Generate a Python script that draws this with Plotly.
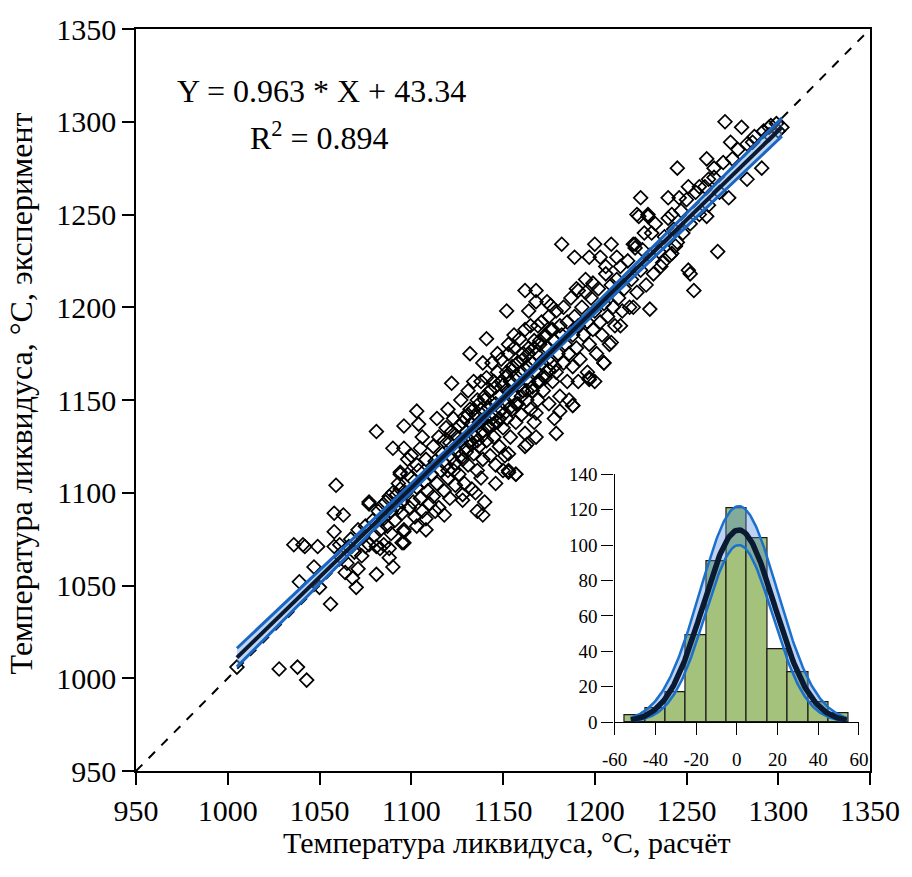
import plotly.graph_objects as go
import math

# ---------------- main scatter data (calc, exp) ----------------
calc = [1005,1028,1038,1043,
        1036,1041,1042,1049,1058,1061,1066,1075,1081,1083,1085,1088,1095,
        1059,1077,1058,1063,1058,1089,1088,1090,1081,1071,1064,1068,1070,1047,1039,1050,1056,1094,1092,1088,1095,1096,1096,
        1081,1090,1096,1096,1103,1104,1106,1098,1103,1094,1093,1077,1084,1096,1122,1132,1141,1156,1153,1147,1139,1157,1153,1153,1140,1136,1139,1128,1108,1113,
        1182,1189,1197,1203,1200,1209,1212,1222,1224,1229,1231,1162,1168,1168,1174,1176,1152,1164,1191,1195,1206,1199,1230,1221,1214,1209,1205,1197,1191,1188,1181,
        1271,1280,1274,1286,1295,1302,1291,1283,1273,1261,1267,1254,1251,1252,1245,1261,1265,1262,1251,1257,1246,1240,1225,1223,1229,1242,1221,1226,1244,1242,1237,
        1179,1168,1163,1188,1205,1197,1153,1157,
        1097,1099,1100,1101,1102,1103,1104,1105,1106,1107,1108,1109,1110,1100,1098,1105,1108,1103,
        1111,1112,1112,1113,1114,1115,1115,1116,1117,1118,1119,1119,1120,1121,1121,1122,1123,1123,1124,1124,1125,1118,1114,1120,
        1126,1126,1127,1127,1128,1129,1129,1130,1130,1131,1131,1132,1132,1133,1133,1134,1134,1135,1135,1136,1136,1137,1137,1138,1138,1139,1139,1140,1140,1128,1135,1138,
        1141,1141,1142,1142,1143,1143,1144,1144,1145,1145,1146,1146,1147,1147,1148,1148,1149,1149,1150,1150,1151,1151,1152,1152,1153,1153,1154,1154,1155,1155,1146,1150,
        1156,1156,1157,1157,1158,1158,1159,1159,1160,1160,1161,1161,1162,1162,1163,1163,1164,1164,1165,1165,1166,1166,1167,1167,1168,1168,1169,1169,1170,1170,1162,1168,
        1171,1171,1172,1173,1173,1174,1175,1175,1176,1177,1177,1178,1179,1179,1180,1181,1181,1182,1183,1183,1184,1185,1185,1186,1187,1188,1188,1189,1190,1178,1186,1190,
        1191,1192,1193,1194,1195,1196,1197,1198,1199,1200,1201,1202,1203,1204,1205,1206,1207,1208,1209,1210,1211,1212,1213,1214,1215,1200,1196,
        1216,1218,1219,1220,1222,1223,1225,1227,1228,1230,1232,1233,1235,1236,1238,1240,1241,1243,1245,1247,1248,1250,1252,1255,1257,1260,1262,1265,1268,1270,1275,1278,1283,1287,1292,1296,1299,1300,1295,
        1062,1065,1067,1069,1071,1073,1075,1077,1079,1080,1082,1083,1085,1086,1087,1089,1090,1091,1093,1094,1095,
        1118,1122,1125,1128,1131,1134,1137,1140,1143,1146,1149,1152,1155,1158,1161,1164,1167,1170,1173,1176,
        1120,1124,1127,1130,1133,1136,1139,1142,1145,1148,1151,1154,1157,1160,1163,1166,1169,1172,1175,1178]
exper = [1006,1005,1006,999,
         1072,1072,1071,1071,1071,1072,1071,1071,1071,1070,1072,1070,1073,
         1104,1094,1089,1088,1079,1078,1065,1060,1056,1059,1057,1054,1049,1060,1052,1049,1040,1110,1099,1098,1089,1079,1073,
         1133,1124,1124,1136,1144,1137,1130,1118,1115,1111,1105,1095,1093,1080,1159,1175,1183,1185,1180,1175,1170,1110,1112,1121,1095,1090,1088,1099,1086,1090,
         1234,1227,1227,1227,1234,1234,1227,1234,1249,1249,1240,1209,1209,1203,1203,1201,1198,1198,1209,1208,1218,1213,1199,1200,1190,1181,1170,1162,1160,1147,1144,
         1300,1297,1289,1289,1297,1297,1275,1269,1259,1249,1230,1209,1220,1218,1275,1280,1275,1269,1265,1265,1259,1259,1259,1250,1250,1250,1234,1231,1233,1229,1224,
         1132,1143,1126,1147,1170,1161,1111,1110,
         1100,1092,1108,1095,1087,1103,1112,1097,1090,1106,1118,1101,1094,1120,1110,1124,1080,1082,
         1110,1125,1098,1117,1105,1130,1092,1112,1121,1101,1135,1115,1108,1127,1097,1119,1140,1112,1104,1131,1122,1088,1140,1145,
         1136,1110,1128,1150,1118,1141,1105,1133,1124,1155,1115,1145,1128,1137,1102,1160,1121,1142,1130,1150,1112,1138,1125,1160,1145,1118,1133,1152,1140,1096,1100,1108,
         1128,1162,1146,1136,1120,1155,1170,1140,1130,1160,1148,1115,1138,1165,1152,1125,1145,1172,1158,1135,1148,1120,1165,1140,1155,1175,1130,1160,1145,1168,1105,1112,
         1178,1152,1138,1163,1170,1148,1183,1158,1142,1165,1175,1155,1188,1132,1168,1150,1178,1160,1145,1190,1170,1155,1182,1138,1165,1175,1150,1190,1160,1180,1125,1130,
         1170,1192,1155,1185,1162,1178,1195,1148,1170,1188,1160,1182,1198,1165,1175,1190,1152,1185,1200,1170,1180,1160,1192,1175,1205,1185,1168,1195,1178,1140,1150,1210,
         1190,1172,1200,1185,1215,1192,1180,1205,1188,1198,1175,1210,1192,1185,1202,1222,1195,1180,1212,1200,1190,1215,1205,1222,1198,1160,1165,
         1210,1225,1200,1215,1232,1208,1220,1240,1212,1228,1218,1245,1230,1222,1238,1248,1228,1242,1235,1252,1240,1258,1245,1262,1250,1265,1255,1270,1262,1278,1280,1285,1288,1292,1295,1298,1299,1295,1293,
         1065,1062,1075,1068,1080,1066,1082,1072,1085,1077,1090,1080,1086,1095,1082,1090,1100,1085,1092,1102,1095,
         1128,1133,1130,1138,1142,1145,1148,1150,1155,1157,1160,1163,1166,1170,1172,1175,1178,1182,1184,1188,
         1112,1116,1120,1122,1126,1128,1131,1135,1137,1140,1143,1146,1148,1152,1155,1157,1160,1163,1166,1168]

# regression  Y = 0.963 * X + 43.34  and its confidence band
slope, intercept = 0.963, 43.34
fit_x = [1005, 1050, 1100, 1150, 1200, 1250, 1302]
band_half = [5.0, 3.6, 2.3, 1.6, 2.3, 3.6, 5.0]

# ---------------- inset histogram of errors ----------------
bin_centers = [-50, -40, -30, -20, -10, 0, 10, 20, 30, 40, 50]
bin_counts = [4, 8, 17, 49, 91, 121, 104, 41, 28, 11, 5]
bin_width = 10
inset_ticks = [-60, -40, -20, 0, 20, 40, 60]
inset_ticktext = ["-60", "-40", "-20", "0", "20", "40", "60"]
upper_peak, upper_sd = 122, 19.0
lower_peak, lower_sd = 100, 16.5
curve_from, curve_to = -52, 54

SERIF = "Liberation Serif"

fig = go.Figure()

# 1:1 line
fig.add_trace(go.Scatter(x=[950, 1350], y=[950, 1350], mode="lines",
                         line=dict(color="black", width=2, dash="dash"),
                         hoverinfo="skip", showlegend=False))
# points
fig.add_trace(go.Scatter(x=calc, y=exper, mode="markers",
                         marker=dict(symbol="diamond-open", size=10.5,
                                     color="black", line=dict(width=1.7, color="black")),
                         showlegend=False))
# confidence band
fit_y = [slope * v + intercept for v in fit_x]
up = [a + b for a, b in zip(fit_y, band_half)]
lo = [a - b for a, b in zip(fit_y, band_half)]
fig.add_trace(go.Scatter(x=fit_x, y=lo, mode="lines", line=dict(color="#1a66c2", width=3),
                         showlegend=False, hoverinfo="skip"))
fig.add_trace(go.Scatter(x=fit_x, y=up, mode="lines", line=dict(color="#1a66c2", width=3),
                         fill="tonexty", fillcolor="rgba(110,165,230,0.45)",
                         showlegend=False, hoverinfo="skip"))
fig.add_trace(go.Scatter(x=fit_x, y=fit_y, mode="lines", line=dict(color="#0b1a30", width=4),
                         showlegend=False, hoverinfo="skip"))

# inset histogram
fig.add_trace(go.Bar(x=bin_centers, y=bin_counts, width=bin_width,
                     marker=dict(color="#a5c27d", line=dict(color="#1a1a1a", width=1.2)),
                     xaxis="x2", yaxis="y2", showlegend=False))
n_tot = sum(bin_counts)
mean = sum(c * x for c, x in zip(bin_counts, bin_centers)) / n_tot
sd = math.sqrt(sum(c * (x - mean) ** 2 for c, x in zip(bin_counts, bin_centers)) / n_tot)
peak = n_tot * bin_width / (sd * math.sqrt(2 * math.pi))
gx = [curve_from + i * (curve_to - curve_from) / 200 for i in range(201)]
def gauss(p, s):
    return [p * math.exp(-((v - mean) ** 2) / (2 * s * s)) for v in gx]
fig.add_trace(go.Scatter(x=gx, y=gauss(lower_peak, lower_sd), mode="lines",
                         line=dict(color="#1a70cc", width=2.5), xaxis="x2", yaxis="y2",
                         showlegend=False, hoverinfo="skip"))
fig.add_trace(go.Scatter(x=gx, y=gauss(upper_peak, upper_sd), mode="lines",
                         line=dict(color="#1a70cc", width=2.5), fill="tonexty",
                         fillcolor="rgba(70,130,215,0.35)", xaxis="x2", yaxis="y2",
                         showlegend=False, hoverinfo="skip"))
fig.add_trace(go.Scatter(x=gx, y=gauss(peak, sd), mode="lines",
                         line=dict(color="#0a1a33", width=5.5), xaxis="x2", yaxis="y2",
                         showlegend=False, hoverinfo="skip"))

main_ticks = [950, 1000, 1050, 1100, 1150, 1200, 1250, 1300, 1350]
axis_common = dict(showline=True, linecolor="black", linewidth=1.5, mirror=True,
                   ticks="outside", ticklen=12, tickwidth=1.5, tickcolor="black",
                   showgrid=False, zeroline=False,
                   tickfont=dict(family=SERIF, size=30, color="black"))
fig.update_layout(
    width=912, height=877,
    margin=dict(l=136, r=32, t=26, b=106),
    paper_bgcolor="white", plot_bgcolor="white",
    xaxis=dict(range=[950, 1350], tickvals=main_ticks, domain=[0, 1], **axis_common),
    yaxis=dict(range=[950, 1350], tickvals=main_ticks, domain=[0, 1], **axis_common),
    xaxis2=dict(domain=[0.652, 0.985], anchor="y2", range=[-60, 60],
                tickvals=inset_ticks, ticktext=inset_ticktext, showline=True, linecolor="black",
                linewidth=1.3, ticks="outside", ticklen=12, tickcolor="black", showgrid=False,
                zeroline=False, ticklabelstandoff=8,
                tickfont=dict(family=SERIF, size=19, color="black")),
    yaxis2=dict(domain=[0.0658, 0.40], anchor="x2", range=[0, 140],
                tickvals=[0, 20, 40, 60, 80, 100, 120, 140], showline=True, linecolor="black",
                linewidth=1.3, ticks="outside", ticklen=12, tickcolor="black", showgrid=False,
                zeroline=False, tickfont=dict(family=SERIF, size=19, color="black")),
    bargap=0,
    annotations=[
        dict(text="Y = 0.963 * X + 43.34", x=1051, y=1316.7, xref="x", yref="y",
             showarrow=False, font=dict(family=SERIF, size=32, color="black")),
        dict(text="R<sup>2</sup> = 0.894", x=1050, y=1292.5, xref="x", yref="y",
             showarrow=False, font=dict(family=SERIF, size=32, color="black")),
        dict(text="Температура ликвидуса, °С, расчёт", x=0.505, y=-0.0966,
             xref="paper", yref="paper", showarrow=False, xanchor="center", yanchor="middle",
             font=dict(family=SERIF, size=30, color="black")),
        dict(text="Температура ликвидуса, °С, эксперимент", x=-0.1565, y=0.509,
             xref="paper", yref="paper", showarrow=False, textangle=-90,
             xanchor="center", yanchor="middle",
             font=dict(family=SERIF, size=32, color="black")),
    ],
)
fig.write_html("out.html")
